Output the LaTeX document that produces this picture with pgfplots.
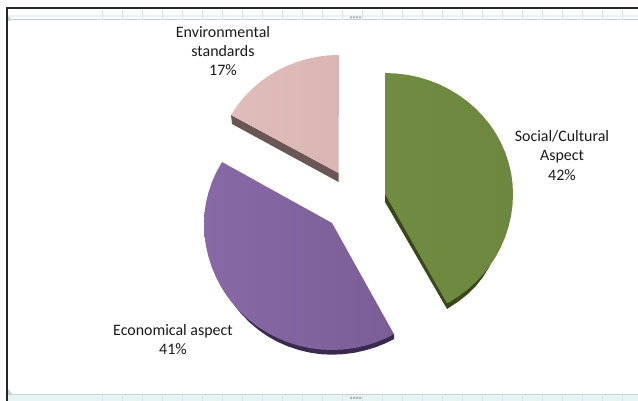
\documentclass[border=0pt]{standalone}
\usepackage{pgfplots}
\usepackage{fontspec}
\setmainfont{Carlito}
\pgfplotsset{compat=1.18}
\definecolor{greenA}{HTML}{708B42}
\definecolor{greenB}{HTML}{6D873E}
\definecolor{greenside}{HTML}{39481C}
\definecolor{purpleA}{HTML}{8769A6}
\definecolor{purpleB}{HTML}{7B5E97}
\definecolor{purpleside}{HTML}{3B2A50}
\definecolor{pinkA}{HTML}{E0BCBB}
\definecolor{pinkB}{HTML}{DAB5B4}
\definecolor{pinkside}{HTML}{6A5655}
\definecolor{rulerline}{HTML}{C9D2D2}
\definecolor{rulerband}{HTML}{E6F5F4}
\definecolor{rulertick}{HTML}{DDE3E9}
\begin{document}
\begin{tikzpicture}
\clip (0,0) rectangle (638bp,401bp);
% window frame and rulers of the screenshot
\fill[rulerband] (8bp,386bp) rectangle (638bp,384bp);
\fill[rulerline] (8bp,381.5bp) rectangle (638bp,380.5bp);
\fill[rulerband] (8bp,6bp) rectangle (638bp,0bp);
\fill[rulerline] (8bp,7bp) rectangle (638bp,6bp);
\foreach \x in {102,122,...,622} {
  \draw[rulertick,line width=0.8bp] (\x bp,391bp) -- (\x bp,381bp);
  \draw[rulertick,line width=0.8bp] (\x bp,7bp) -- (\x bp,0bp);
}
\fill[gray!60] (350bp,384.5bp) rectangle (352bp,382.5bp) (353bp,384.5bp) rectangle (355bp,382.5bp) (356bp,384.5bp) rectangle (358bp,382.5bp) (359bp,384.5bp) rectangle (361bp,382.5bp);
\fill[gray!60] (350bp,4bp) rectangle (352bp,2bp) (353bp,4bp) rectangle (355bp,2bp) (356bp,4bp) rectangle (358bp,2bp) (359bp,4bp) rectangle (361bp,2bp);
\fill[rulerline] (8bp,385bp) -- (12bp,381bp) -- (8bp,380bp) -- cycle;
\fill[rulerline] (8bp,12bp) -- (12bp,7bp) -- (8bp,6bp) -- cycle;
\fill[black!85] (6bp,393.8bp) rectangle (638bp,391.8bp);
\fill[black!85] (6bp,393.8bp) rectangle (8.2bp,0bp);
\begin{axis}[
    at={(0,0)},
    scale only axis,
    width=638bp, height=401bp,
    xmin=0, xmax=638, ymin=0, ymax=401,
    y dir=reverse,
    hide axis,
    ]
% sides
\addplot[fill=greenside,draw=none] coordinates {
  (385,194) (385,202) (447,309) (458.4,301.5) (467.3,294.5) (475.5,286.5) (483,277) (490,265.7) } --cycle;
\addplot[draw=greenside,line width=0.8bp] coordinates { (385.2,73) (385.2,194) };
\addplot[fill=purpleside,draw=none] coordinates {
  (394,334) (394,339) (386.1,343) (375.8,347.2) (365.1,350.4) (354.2,352.8) (343.2,354.2)
  (332,354.7) (320.8,354.2) (309.8,352.6) (298.9,350) (288.2,346.5) (277.9,342) (268,336.5)
  (258.6,330) (249.7,322.5) (241.5,314.2) (234,305) } --cycle;
\addplot[fill=pinkside,draw=none] coordinates {
  (231,115) (232,124) (338.5,182) (338.5,173) } --cycle;
% top surfaces
\addplot[left color=greenA,right color=greenB,draw=none] coordinates {
  (385,194) (385,73) (396.2,73.5) (407.2,74.8) (418.1,77.1) (428.8,80.3) (439.1,84.3) (449,89.2)
  (458.4,94.9) (467.3,101.3) (475.5,108.4) (483,116.2) (489.9,124.6) (495.9,133.5) (501,142.9)
  (505.3,152.6) (508.6,162.7) (511.1,173) (512.5,183.5) (513,194) (512.5,204.9) (511.1,215.7)
  (508.6,226.4) (505.3,236.8) (501,246.8) (495.9,256.5) (489.9,265.7) (483,274.4) (475.5,282.4)
  (467.3,289.8) (458.4,296.4) (449,302.3) (447,303.3) } --cycle;
\addplot[left color=purpleA,right color=purpleB,draw=none] coordinates {
  (332,223) (394,334.2) (386.1,338.2) (375.8,342.4) (365.1,345.7) (354.2,348.1) (343.2,349.5)
  (332,350) (320.8,349.5) (309.8,348.1) (298.9,345.7) (288.2,342.4) (277.9,338.2) (268,333.1)
  (258.6,327.2) (249.7,320.5) (241.5,313.1) (234,305) (227.1,296.3) (221.1,287) (216,277.2)
  (211.7,267.1) (208.4,256.6) (205.9,245.9) (204.5,235) (204,224) (204.5,213.5) (205.9,203)
  (208.4,192.7) (211.7,182.6) (216,172.9) (222,162) } --cycle;
\addplot[left color=pinkA,right color=pinkB,draw=none] coordinates {
  (338.5,173) (339,55) (328.2,55.4) (317.5,56.8) (306.9,59) (296.6,62.1) (286.6,66) (277,70.8)
  (267.9,76.3) (259.3,82.6) (251.3,89.6) (244,97.2) (237.4,105.3) (231.6,114) (231,115) } --cycle;
% labels
\node[align=center,font=\fontsize{16}{19.5}\selectfont,text=black!90] at (axis cs:223,51) {Environmental\\standards\\17\%};
\node[align=center,font=\fontsize{16}{19.5}\selectfont,text=black!90] at (axis cs:562,155.5) {Social/Cultural\\Aspect\\42\%};
\node[align=center,font=\fontsize{16}{19.5}\selectfont,text=black!90] at (axis cs:173,339.5) {Economical aspect\\41\%};
\end{axis}
\end{tikzpicture}
\end{document}
